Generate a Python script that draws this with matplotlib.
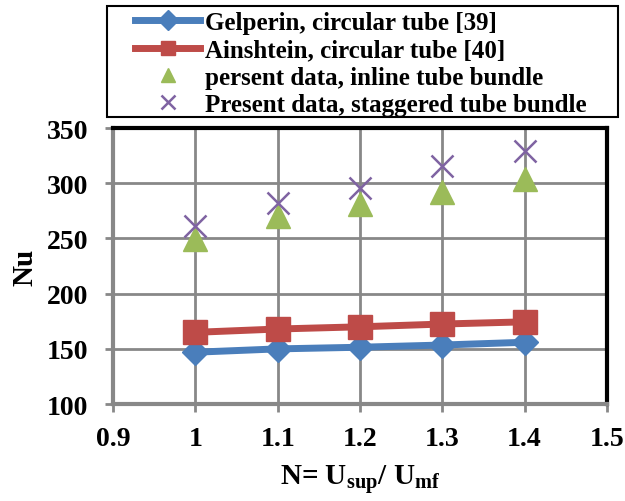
import matplotlib.pyplot as plt
from matplotlib.patches import Rectangle

plt.rcParams['font.family'] = ['Liberation Serif', 'DejaVu Serif']
plt.rcParams['font.weight'] = 'bold'
plt.rcParams['mathtext.fontset'] = 'custom'
plt.rcParams['mathtext.rm'] = 'Liberation Serif:bold'
plt.rcParams['mathtext.bf'] = 'Liberation Serif:bold'

# data
n_ratio = [1.0, 1.1, 1.2, 1.3, 1.4]
gelperin = [147, 150, 151.5, 153.5, 156]
ainshtein = [165, 168, 170, 172.5, 174.5]
inline = [249.5, 270, 281, 292, 304]
staggered = [261.5, 282, 296, 316, 329]

x_ticks = [0.9, 1.0, 1.1, 1.2, 1.3, 1.4, 1.5]
x_labels = ['0.9', '1', '1.1', '1.2', '1.3', '1.4', '1.5']
y_ticks = [100, 150, 200, 250, 300, 350]

fig = plt.figure(figsize=(6.25, 5.02), dpi=100)
ax = fig.add_axes([0.181, 0.193, 0.79, 0.55])

ax.plot(n_ratio, gelperin, color='#4a7ebb', lw=5, marker='D', ms=13,
        label='Gelperin, circular tube [39]', zorder=3)
ax.plot(n_ratio, ainshtein, color='#be4b48', lw=5, marker='s', ms=17,
        label='Ainshtein, circular tube [40]', zorder=3)
ax.plot(n_ratio, inline, ls='none', color='#9bbb59', marker='^', ms=17,
        label='persent data, inline tube bundle', zorder=3)
ax.plot(n_ratio, staggered, ls='none', color='#7f63a2', marker='x', ms=16,
        mew=1.8, label='Present data, staggered tube bundle', zorder=4)

ax.set_xlim(0.9, 1.5)
ax.set_ylim(100, 350)
ax.set_xticks(x_ticks)
ax.set_xticklabels(x_labels)
ax.set_yticks(y_ticks)
ax.tick_params(labelsize=20, direction='out', length=6, width=2,
               color='#888888')
ax.tick_params(axis='y', pad=12)
ax.tick_params(axis='x', pad=10)
ax.grid(True, color='#888888', lw=2)
ax.set_axisbelow(True)

for side in ['top', 'right']:
    ax.spines[side].set_color('black')
    ax.spines[side].set_linewidth(3)
for side in ['left', 'bottom']:
    ax.spines[side].set_color('#888888')
    ax.spines[side].set_linewidth(3)

ax.set_ylabel('Nu', fontsize=21, fontweight='bold', labelpad=6)
ax.set_xlabel(r'N= U$_{\rm sup}$/ U$_{\rm mf}$', fontsize=21,
              fontweight='bold', labelpad=8)

# legend box is wider than its content in the original
fig.patches.append(Rectangle((107 / 625, 1 - 118 / 502), 511 / 625, 111 / 502,
                             transform=fig.transFigure, fill=False,
                             edgecolor='black', lw=1.5))
leg = fig.legend(loc='upper left', bbox_to_anchor=(135 / 625, 1 - 12 / 502),
                 fontsize=18, frameon=False, handlelength=2.6,
                 handletextpad=0.2, borderpad=0, labelspacing=0.17,
                 borderaxespad=0)
for h in leg.legend_handles:
    h.set_markersize(10)

fig.savefig('out.png', dpi=100)
